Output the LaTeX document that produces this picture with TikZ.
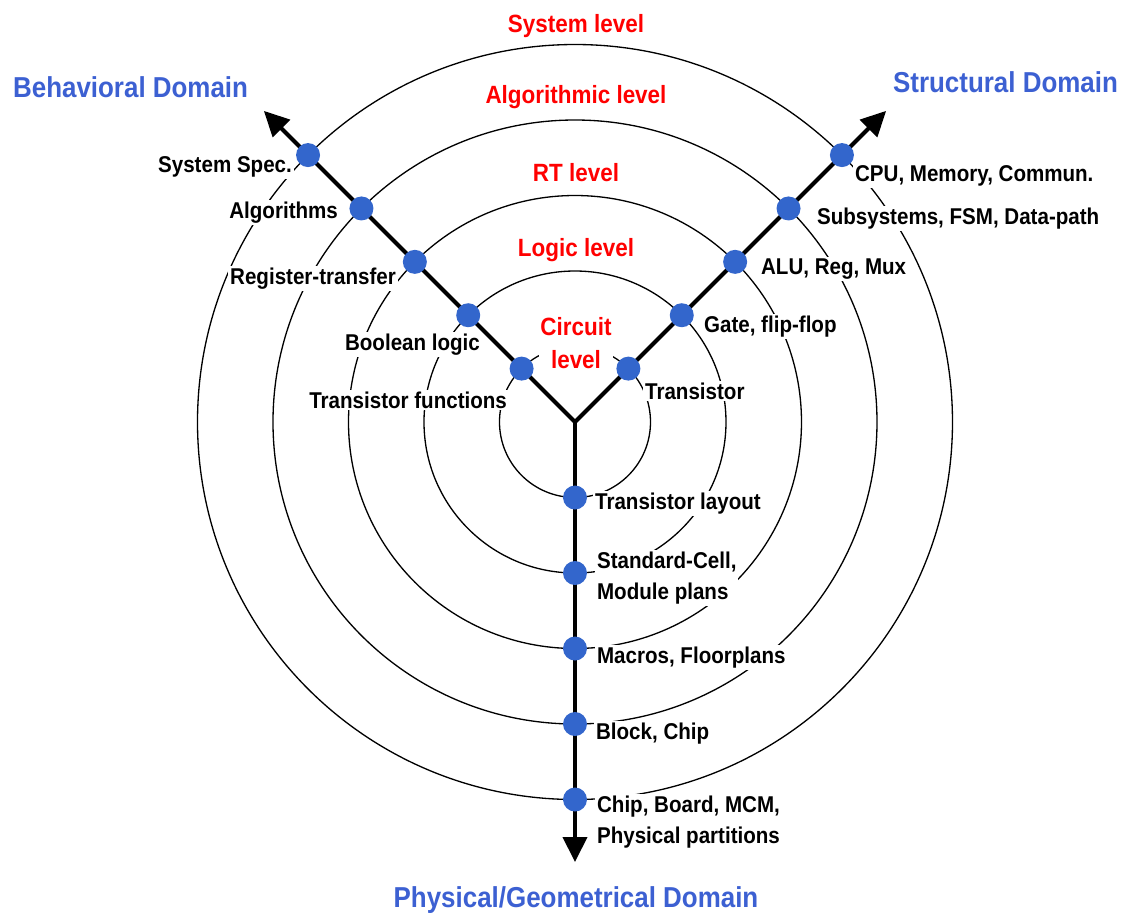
\documentclass[tikz,border=0pt]{standalone}
\usepackage{fontspec}
\setmainfont{Liberation Sans}[FakeStretch=0.9]
\usepackage{tikz}
\usetikzlibrary{arrows.meta,shapes,positioning}
\definecolor{dotblue}{RGB}{51,102,204}
\definecolor{domblue}{RGB}{60,96,210}
\tikzstyle{bdot} = [circle, fill=dotblue, inner sep=0pt, minimum size=0.48cm]
\tikzstyle{lbl} = [fill=white, inner sep=1pt,
    font=\fontsize{13}{17.5}\selectfont\bfseries]
\tikzstyle{lvltext} = [fill=white, inner sep=1pt, text=red, align=center,
    font=\fontsize{14.2}{18.7}\selectfont\bfseries]
\tikzstyle{domtext} = [text=domblue, inner sep=1pt,
    font=\fontsize{16.4}{20}\selectfont\bfseries]
\tikzstyle{ringline} = [line width=0.75pt]
\tikzstyle{axisline} = [line width=2.3pt, -{Triangle[length=0.5cm,width=0.48cm]}]

\begin{document}
\begin{tikzpicture}
  \useasboundingbox (-11.5,-9.82) rectangle (11.04,8.44);
  \coordinate (c) at (0,0);
  % rings of the abstraction levels
  \foreach \r in {1.51,3.02,4.53,6.04,7.55}
    \draw [ringline] (c) circle (\r);
  % the three axes
  \coordinate (beh) at (135:8.8);
  \coordinate (str) at (45:8.8);
  \coordinate (phy) at (270:8.8);
  \draw [axisline] (c) -- (beh);
  \draw [axisline] (c) -- (str);
  \draw [axisline] (c) -- (phy);
  % points on the axes
  \node [bdot] (b1) at (135:1.51) {};
  \node [bdot] (b2) at (135:3.02) {};
  \node [bdot] (b3) at (135:4.53) {};
  \node [bdot] (b4) at (135:6.04) {};
  \node [bdot] (b5) at (135:7.55) {};
  \node [bdot] (s1) at (45:1.51) {};
  \node [bdot] (s2) at (45:3.02) {};
  \node [bdot] (s3) at (45:4.53) {};
  \node [bdot] (s4) at (45:6.04) {};
  \node [bdot] (s5) at (45:7.55) {};
  \node [bdot] (p1) at (270:1.51) {};
  \node [bdot] (p2) at (270:3.02) {};
  \node [bdot] (p3) at (270:4.53) {};
  \node [bdot] (p4) at (270:6.04) {};
  \node [bdot] (p5) at (270:7.55) {};
  % behavioral labels
  \node [lbl, anchor=base east] (lb5) at (-5.62,5.00) {System Spec.};
  \node [lbl, anchor=base east] (lb4) at (-4.70,4.08) {Algorithms};
  \node [lbl, anchor=base east] (lb3) at (-3.54,2.76) {Register-transfer};
  \node [lbl, anchor=base east] (lb2) at (-1.86,1.44) {Boolean logic};
  \node [lbl, anchor=base east] (lb1) at (-1.32,0.28) {Transistor functions};
  % structural labels
  \node [lbl, anchor=base west] (ls5) at (5.56,4.82) {CPU, Memory, Commun.};
  \node [lbl, anchor=base west] (ls4) at (4.80,3.96) {Subsystems, FSM, Data-path};
  \node [lbl, anchor=base west] (ls3) at (3.68,2.96) {ALU, Reg, Mux};
  \node [lbl, anchor=base west] (ls2) at (2.54,1.80) {Gate, flip-flop};
  \node [lbl, anchor=base west] (ls1) at (1.36,0.46) {Transistor};
  % physical labels
  \node [lbl, anchor=base west] (lp1) at (0.36,-1.74) {Transistor layout};
  \node [lbl, anchor=base west, align=left] (lp2) at (0.40,-3.54) {Standard-Cell,\\Module plans};
  \node [lbl, anchor=base west] (lp3) at (0.40,-4.82) {Macros, Floorplans};
  \node [lbl, anchor=base west] (lp4) at (0.38,-6.34) {Block, Chip};
  \node [lbl, anchor=base west, align=left] (lp5) at (0.40,-8.42) {Chip, Board, MCM,\\Physical partitions};
  % level names
  \node [lvltext, anchor=base] (lv5) at (0.02,7.80) {System level};
  \node [lvltext, anchor=base] (lv4) at (0.02,6.38) {Algorithmic level};
  \node [lvltext, anchor=base] (lv3) at (0.02,4.82) {RT level};
  \node [lvltext, anchor=base] (lv2) at (0.02,3.32) {Logic level};
  \node [lvltext, anchor=base] (lv1) at (0.02,1.08) {Circuit\\level};
  % domain names
  \node [domtext, anchor=base west] (db) at (-11.28,6.50) {Behavioral Domain};
  \node [domtext, anchor=base west] (ds) at (6.32,6.60) {Structural Domain};
  \node [domtext, anchor=base] (dp) at (0.02,-9.70) {Physical/Geometrical Domain};
\end{tikzpicture}
\end{document}
